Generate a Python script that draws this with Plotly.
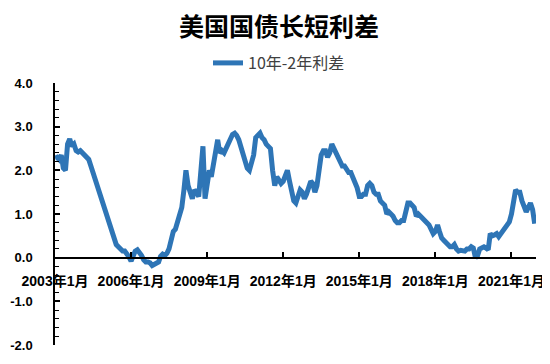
import plotly.graph_objects as go
import pandas as pd

title = "美国国债长短利差"
series_name = "10年-2年利差"

# monthly 10Y-2Y spread (%), Jan 2003 .. Dec 2021
spread_2003 = [2.28, 2.30, 2.25, 2.35, 2.05, 2.00, 2.60, 2.72, 2.55, 2.60, 2.45, 2.42]
spread_2004 = [2.45, 2.40, 2.35, 2.30, 2.25, 2.10, 1.95, 1.80, 1.65, 1.50, 1.30, 1.15]
spread_2005 = [1.05, 0.85, 0.72, 0.55, 0.40, 0.30, 0.25, 0.20, 0.15, 0.15, 0.10, 0.02]
spread_2006 = [-0.08, 0.05, 0.15, 0.18, 0.12, 0.05, -0.05, -0.10, -0.10, -0.12, -0.18, -0.15]
spread_2007 = [-0.12, -0.10, 0.03, 0.08, 0.05, 0.10, 0.20, 0.40, 0.60, 0.65, 0.85, 1.00]
spread_2008 = [1.15, 1.55, 2.00, 1.65, 1.45, 1.35, 1.55, 1.50, 1.40, 2.10, 2.55, 1.35]
spread_2009 = [1.65, 2.00, 1.85, 2.20, 2.55, 2.70, 2.40, 2.45, 2.40, 2.50, 2.60, 2.75]
spread_2010 = [2.82, 2.85, 2.80, 2.70, 2.55, 2.35, 2.25, 2.05, 2.00, 2.15, 2.35, 2.75]
spread_2011 = [2.80, 2.85, 2.75, 2.70, 2.60, 2.55, 2.50, 2.00, 1.65, 1.85, 1.75, 1.70]
spread_2012 = [1.75, 1.85, 2.00, 1.75, 1.45, 1.30, 1.25, 1.40, 1.55, 1.50, 1.35, 1.45]
spread_2013 = [1.65, 1.75, 1.70, 1.50, 1.65, 2.15, 2.35, 2.45, 2.45, 2.30, 2.40, 2.60]
spread_2014 = [2.50, 2.40, 2.30, 2.25, 2.10, 2.10, 2.00, 1.95, 1.95, 1.85, 1.75, 1.60]
spread_2015 = [1.40, 1.40, 1.45, 1.45, 1.65, 1.70, 1.65, 1.50, 1.45, 1.45, 1.30, 1.25]
spread_2016 = [1.20, 1.00, 1.05, 1.00, 0.95, 0.85, 0.80, 0.80, 0.85, 0.85, 1.05, 1.25]
spread_2017 = [1.25, 1.20, 1.15, 0.95, 1.00, 0.95, 0.90, 0.85, 0.80, 0.75, 0.65, 0.55]
spread_2018 = [0.60, 0.75, 0.60, 0.45, 0.40, 0.35, 0.30, 0.25, 0.25, 0.30, 0.20, 0.15]
spread_2019 = [0.17, 0.17, 0.15, 0.20, 0.20, 0.25, 0.22, 0.00, 0.05, 0.20, 0.22, 0.25]
spread_2020 = [0.22, 0.18, 0.55, 0.50, 0.52, 0.55, 0.48, 0.55, 0.58, 0.65, 0.75, 0.82]
spread_2021 = [1.00, 1.25, 1.55, 1.50, 1.50, 1.30, 1.15, 1.05, 1.15, 1.25, 1.10, 0.78]

values = (spread_2003 + spread_2004 + spread_2005 + spread_2006 + spread_2007 +
          spread_2008 + spread_2009 + spread_2010 + spread_2011 + spread_2012 +
          spread_2013 + spread_2014 + spread_2015 + spread_2016 + spread_2017 +
          spread_2018 + spread_2019 + spread_2020 + spread_2021)
dates = pd.date_range("2003-01-01", periods=len(values), freq="MS")

x_tick_vals = ["2003-01-01", "2006-01-01", "2009-01-01", "2012-01-01",
               "2015-01-01", "2018-01-01", "2021-01-01"]
x_tick_text = ["2003年1月", "2006年1月", "2009年1月", "2012年1月",
               "2015年1月", "2018年1月", "2021年1月"]
y_tick_vals = [-2, -1, 0, 1, 2, 3, 4]
y_tick_text = ["-2.0", "-1.0", "0.0", "1.0", "2.0", "3.0", "4.0"]

num_font = "Liberation Sans, Arial, Noto Sans CJK SC, sans-serif"
cjk_font = "Noto Sans CJK SC, Liberation Sans, sans-serif"

W, H = 542, 356  # page has an 8px body margin

fig = go.Figure()
fig.add_trace(go.Scatter(
    x=dates, y=values, mode="lines", name=series_name,
    line=dict(color="#2E75B6", width=5),
))

fig.update_layout(
    width=W, height=H,
    margin=dict(l=47, r=14, t=75, b=19, autoexpand=False),
    paper_bgcolor="white", plot_bgcolor="white",
    title=dict(text="<b>" + title + "</b>", x=0.5, xref="container", xanchor="center",
               y=1 - 19.5 / H, yref="container", yanchor="middle",
               font=dict(family=cjk_font, size=25, color="black")),
    showlegend=True,
    legend=dict(orientation="h", x=0.5, xref="container", xanchor="center",
                y=1 - 55 / H, yref="container", yanchor="middle",
                font=dict(family=cjk_font, size=16, color="#404040"),
                bgcolor="rgba(0,0,0,0)"),
    xaxis=dict(
        type="date", range=["2003-01-01", "2021-12-20"],
        anchor="free", position=1 / 3, automargin=False,
        showline=True, linecolor="black", linewidth=1.5,
        showgrid=False, zeroline=False,
        tickmode="array", tickvals=x_tick_vals, ticktext=x_tick_text,
        ticks="inside", ticklen=5, tickcolor="black", tickwidth=1.5,
        ticklabelstandoff=11,
        tickfont=dict(family=num_font, size=14, color="black", weight="bold"),
    ),
    yaxis=dict(
        range=[-2, 4], automargin=False,
        showline=True, linecolor="black", linewidth=1.5,
        showgrid=False, zeroline=False,
        tickmode="array", tickvals=y_tick_vals, ticktext=y_tick_text,
        ticks="inside", ticklen=5, tickcolor="black", tickwidth=1.5,
        minor=dict(dtick=0.2, ticks="inside", ticklen=4, tickcolor="black", tickwidth=1),
        ticklabelstandoff=18,
        tickfont=dict(family=num_font, size=13, color="black", weight="bold"),
    ),
)

fig.write_html("out.html")
